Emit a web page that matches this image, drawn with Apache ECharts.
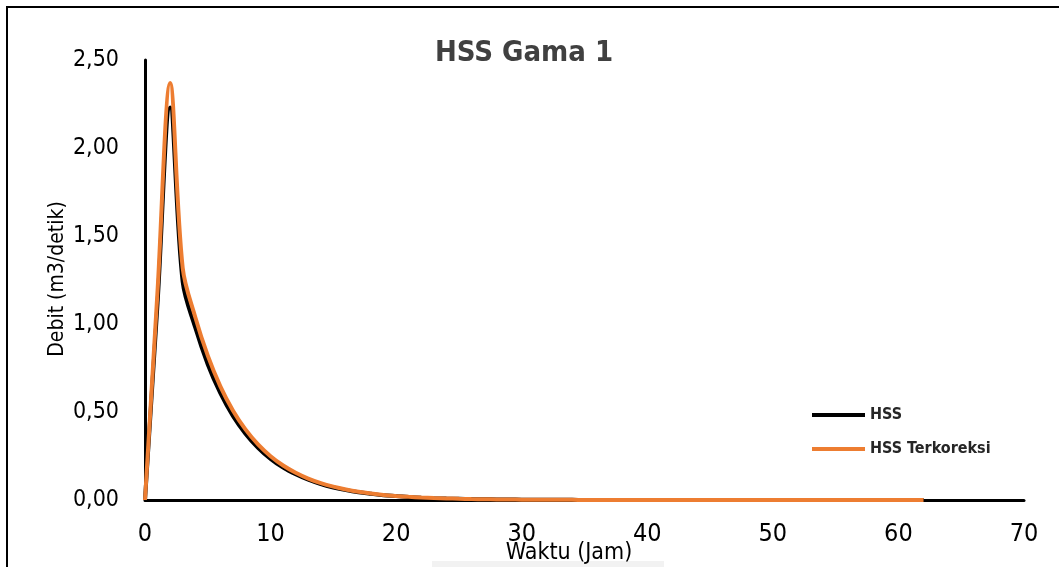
<!DOCTYPE html>
<html>
<head>
<meta charset="utf-8">
<title>HSS Gama 1</title>
<script src="https://cdn.jsdelivr.net/npm/echarts@6/dist/echarts.min.js"></script>
<style>
  html, body { margin: 0; padding: 0; background: #fff; }
  #chart { width: 1059px; height: 567px; }
</style>
</head>
<body>
<div id="chart"></div>
<script>
// Waktu (jam), 0 .. 62
const waktu = [
  0, 1, 2, 3, 4, 5, 6, 7, 8, 9, 10, 11, 12, 13, 14, 15, 16, 17, 18, 19, 20,
  21, 22, 23, 24, 25, 26, 27, 28, 29, 30, 31, 32, 33, 34, 35, 36, 37, 38, 39, 40,
  41, 42, 43, 44, 45, 46, 47, 48, 49, 50, 51, 52, 53, 54, 55, 56, 57, 58, 59, 60,
  61, 62
];

// Debit HSS (m3/detik)
const debitHSS = [
  0, 1.12, 2.23, 1.24, 0.98, 0.77, 0.607, 0.478, 0.377, 0.297, 0.234,
  0.184, 0.146, 0.115, 0.090, 0.071, 0.056, 0.044, 0.035, 0.027, 0.022,
  0.017, 0.013, 0.010, 0.008, 0.0066, 0.0052, 0.0040, 0.0032, 0.0025, 0.0020,
  0.0015, 0.0012, 0.0009, 0.0008, 0.0006, 0.0005, 0.0004, 0.0003, 0.0002, 0.0002,
  0.0001, 0.0001, 0.0001, 0.0001, 0, 0, 0, 0, 0, 0,
  0, 0, 0, 0, 0, 0, 0, 0, 0, 0,
  0, 0
];

// Debit HSS terkoreksi (m3/detik)
const debitTerkoreksi = [
  0, 1.19, 2.37, 1.32, 1.04, 0.82, 0.646, 0.509, 0.401, 0.316, 0.249,
  0.196, 0.155, 0.122, 0.096, 0.076, 0.060, 0.047, 0.037, 0.029, 0.023,
  0.018, 0.014, 0.011, 0.009, 0.007, 0.0055, 0.0043, 0.0034, 0.0027, 0.0021,
  0.0016, 0.0013, 0.0010, 0.0008, 0.0006, 0.0005, 0.0004, 0.0003, 0.0002, 0.0002,
  0.0001, 0.0001, 0.0001, 0.0001, 0, 0, 0, 0, 0, 0,
  0, 0, 0, 0, 0, 0, 0, 0, 0, 0,
  0, 0
];

const seriesNames = ['HSS', 'HSS Terkoreksi'];
const seriesColors = ['#000000', '#ED7D31'];
const xAxisTitle = 'Waktu (Jam)';
const yAxisTitle = 'Debit (m3/detik)';

const FONT = '"Liberation Sans Narrow", "Arial Narrow", "DejaVu Sans Condensed", sans-serif';

const pairs = (ys) => waktu.map((t, i) => [t, ys[i]]);

const chart = echarts.init(document.getElementById('chart'), null, { renderer: 'canvas' });

chart.setOption({
  backgroundColor: '#ffffff',
  animation: false,
  title: {
    text: 'HSS Gama 1',
    left: 519,
    top: 34,
    textAlign: 'center',
    textStyle: {
      fontFamily: FONT,
      fontSize: 29,
      fontWeight: 'bold',
      color: '#404040'
    }
  },
  legend: {
    orient: 'vertical',
    left: 807,
    top: 402,
    itemWidth: 53,
    itemHeight: 4,
    itemGap: 18,
    icon: 'rect',
    data: seriesNames,
    textStyle: {
      fontFamily: FONT,
      fontSize: 16,
      fontWeight: 'bold',
      color: '#262626'
    }
  },
  grid: {
    left: 145,
    right: 35,
    top: 60,
    bottom: 67,
    containLabel: false,
    outerBoundsMode: 'none'
  },
  xAxis: {
    type: 'value',
    min: 0,
    max: 70,
    interval: 10,
    axisLine: { show: true, onZero: false, lineStyle: { color: '#000000', width: 3 } },
    axisTick: { show: false },
    splitLine: { show: false },
    axisLabel: {
      margin: 22,
      hideOverlap: false,
      fontFamily: FONT,
      fontSize: 25,
      color: '#000000'
    }
  },
  yAxis: {
    type: 'value',
    min: 0,
    max: 2.5,
    interval: 0.5,
    axisLine: { show: true, lineStyle: { color: '#000000', width: 3 } },
    axisTick: { show: false },
    splitLine: { show: false },
    axisLabel: {
      margin: 26,
      fontFamily: FONT,
      fontSize: 23,
      color: '#000000',
      formatter: (v) => v.toFixed(2).replace('.', ',')
    }
  },
  series: [
    {
      name: seriesNames[0],
      type: 'line',
      data: pairs(debitHSS),
      smooth: 0.35,
      symbol: 'none',
      color: seriesColors[0],
      lineStyle: { color: seriesColors[0], width: 4 },
      z: 2
    },
    {
      name: seriesNames[1],
      type: 'line',
      data: pairs(debitTerkoreksi),
      smooth: 0.35,
      symbol: 'none',
      color: seriesColors[1],
      lineStyle: { color: seriesColors[1], width: 4 },
      z: 3
    }
  ],
  graphic: [
    {
      // outer frame: top and left edges
      type: 'polyline',
      shape: { points: [[7, 567], [7, 7], [1059, 7]] },
      style: { stroke: '#000000', lineWidth: 2, fill: null },
      silent: true
    },
    {
      type: 'rect',
      shape: { x: 432, y: 561, width: 232, height: 6 },
      style: { fill: '#f2f2f2' },
      silent: true
    },
    {
      // x-axis title, sitting just under the tick labels
      type: 'text',
      x: 569,
      y: 553,
      z: 10,
      style: {
        text: xAxisTitle,
        fontFamily: FONT,
        fontSize: 23,
        fill: '#000000',
        align: 'center',
        verticalAlign: 'middle'
      },
      silent: true
    },
    {
      // y-axis title, rotated
      type: 'text',
      x: 58,
      y: 279,
      rotation: Math.PI / 2,
      z: 10,
      style: {
        text: yAxisTitle,
        fontFamily: FONT,
        fontSize: 21,
        fill: '#000000',
        align: 'center',
        verticalAlign: 'middle'
      },
      silent: true
    }
  ]
});
</script>
</body>
</html>
